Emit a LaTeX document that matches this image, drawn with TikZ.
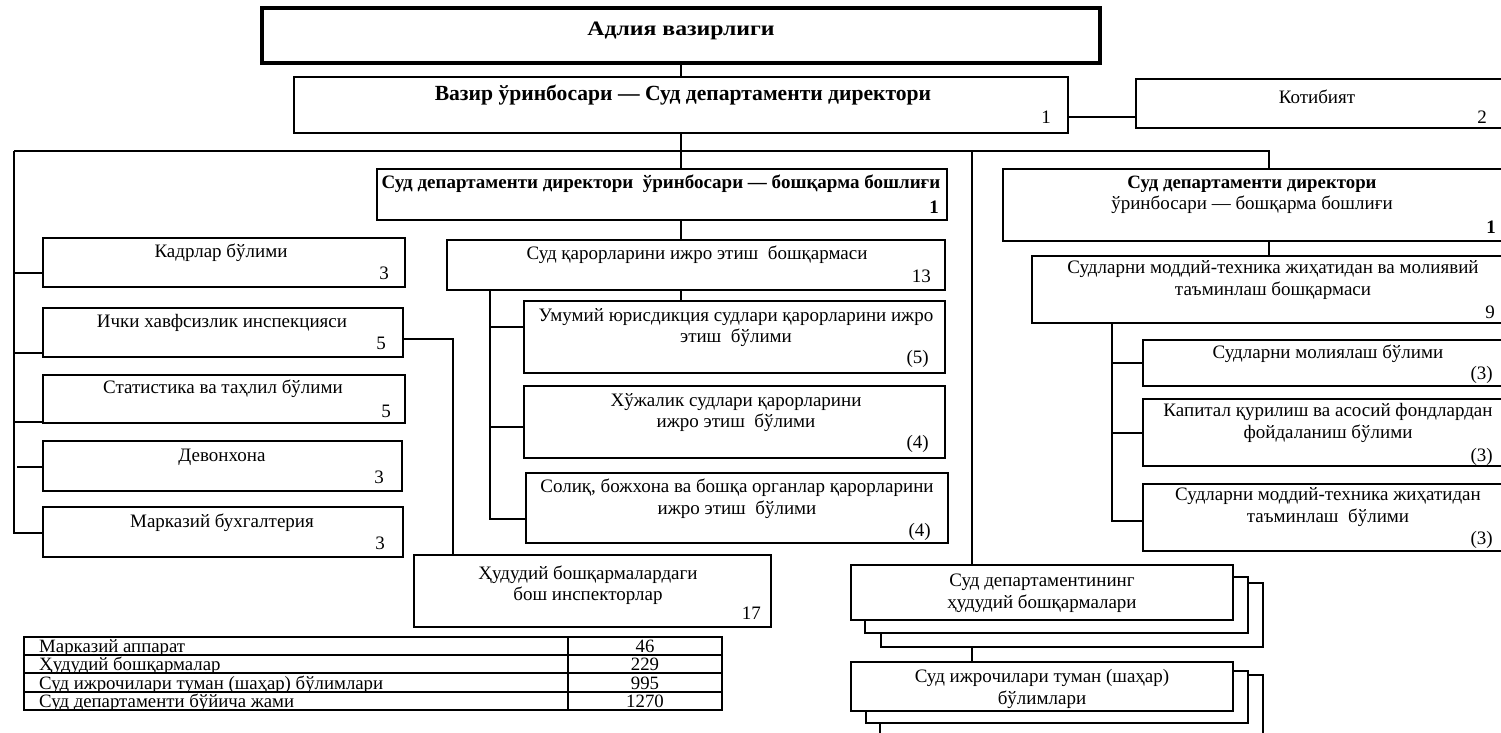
\documentclass[tikz,border=0pt]{standalone}
\usepackage{fontspec}
\setmainfont{Liberation Serif}
\usepackage{graphicx}
\newcommand\fsN{\fontsize{19}{21.5}\selectfont}
\newcommand\fsT{\fontsize{18.8}{18}\selectfont}
\newcommand\mkbox[6][]{\node[box,#1,minimum width={(#5-#3)*1pt},minimum height={(#6-#4)*1pt}] (#2) at ({(#3+#5)/2},{(#4+#6)/2}) {};}
\begin{document}
\begin{tikzpicture}[x=1pt,y=-1pt,
  box/.style={draw, line width=2.6pt, fill=white, inner sep=0pt, outer sep=0pt},
  ln/.style={line width=1.7pt},
  tl/.style={line width=1.9pt},
  txt/.style={inner sep=0pt, align=center, font=\fsN},
  num/.style={inner sep=0pt, anchor=east, font=\fsN},
  tt/.style={inner sep=0pt, font=\fsT}]
\useasboundingbox (0,0) rectangle (1501,733);
\fill[white] (0,0) rectangle (1501,733);
% boxes
\mkbox[line width=4.2pt]{A}{262}{8}{1100}{63}
\mkbox{B}{294}{77}{1068}{133}
\mkbox{Kt}{1136}{79}{1506}{128}
\mkbox{C}{377}{169}{947}{220}
\mkbox{D}{1003}{169}{1506}{241}
\mkbox{Kd}{43}{238}{405}{287}
\mkbox{Ic}{43}{308}{403}{357}
\mkbox{St}{43}{375}{405}{423}
\mkbox{Dv}{43}{441}{402}{491}
\mkbox{Mk}{43}{507}{403}{557}
\mkbox{SQ}{447}{240}{945}{290}
\mkbox{Um}{524}{301}{945}{373}
\mkbox{Kh}{524}{386}{945}{458}
\mkbox{So}{526}{473}{948}{543}
\mkbox{Hd}{414}{555}{771}{627}
\mkbox{Bq}{1032}{256}{1512}{323}
\mkbox{Ml}{1143}{340}{1512}{386}
\mkbox{Kp}{1143}{399}{1512}{466}
\mkbox{Md}{1143}{484}{1512}{551}
\mkbox{S1c}{881}{583}{1263}{647}
\mkbox{S1b}{865}{577}{1248}{633}
\mkbox{S1a}{851}{565}{1233}{620}
\mkbox{S2c}{880}{675}{1263}{745}
\mkbox{S2b}{866}{671}{1248}{723}
\mkbox{S2a}{851}{662}{1233}{711}
% texts
\node[txt] (tA) at (681,31) {\fontsize{20.5}{24}\selectfont\bfseries\scalebox{1.16}[1]{Адлия вазирлиги}};
\node[txt] (tB) at (683,95) {\fontsize{21.6}{24}\selectfont\bfseries Вазир ўринбосари — Суд департаменти директори};
\node[num] (nB) at (1051,117) {1};
\node[txt] (tKt) at (1317,97) {Котибият};
\node[num] (nKt) at (1487,117) {2};
\node[txt] (tC) at (661,184) {\fontsize{19}{22}\selectfont\bfseries Суд департаменти директори\ \ ўринбосари — бошқарма бошлиғи};
\node[num] (nC) at (939,207) {\bfseries 1};
\node[txt] (tD) at (1252,195) {\fontsize{18.8}{20}\selectfont\bfseries Суд департаменти директори\\ ўринбосари — бошқарма бошлиғи};
\node[num] (nD) at (1496,227) {\bfseries 1};
\node[txt] (tKd) at (221,253) {Кадрлар бўлими};
\node[num] (nKd) at (389,273) {3};
\node[txt] (tIc) at (222,323) {Ички хавфсизлик инспекцияси};
\node[num] (nIc) at (386,343) {5};
\node[txt] (tSt) at (223,389) {Статистика ва таҳлил бўлими};
\node[num] (nSt) at (391,411) {5};
\node[txt] (tDv) at (222,457) {Девонхона};
\node[num] (nDv) at (384,477) {3};
\node[txt] (tMk) at (222,523) {Марказий бухгалтерия};
\node[num] (nMk) at (385,543) {3};
\node[txt] (tSQ) at (697,255) {Суд қарорларини ижро этиш\ \ бошқармаси};
\node[num] (nSQ) at (931,276) {13};
\node[txt] (tUm) at (736,327.5) {Умумий юрисдикция судлари қарорларини ижро\\ этиш\ \ бўлими};
\node[num] (nUm) at (929,359) {(5)};
\node[txt] (tKh) at (736,412.5) {Хўжалик судлари қарорларини\\ ижро этиш\ \ бўлими};
\node[num] (nKh) at (929,444) {(4)};
\node[txt] (tSo) at (737,498.5) {Солиқ, божхона ва бошқа органлар қарорларини\\ ижро этиш\ \ бўлими};
\node[num] (nSo) at (931,532) {(4)};
\node[txt] (tHd) at (588,585) {Ҳудудий бошқармалардаги\\ бош инспекторлар};
\node[num] (nHd) at (761,613) {17};
\node[txt] (tBq) at (1273,280) {Судларни моддий-техника жиҳатидан ва молиявий\\ таъминлаш бошқармаси};
\node[num] (nBq) at (1495,312) {9};
\node[txt] (tMl) at (1328,354) {Судларни молиялаш бўлими};
\node[num] (nMl) at (1493,375) {(3)};
\node[txt] (tKp) at (1328,423) {Капитал қурилиш ва асосий фондлардан\\ фойдаланиш бўлими};
\node[num] (nKp) at (1493,457) {(3)};
\node[txt] (tMd) at (1328,507) {Судларни моддий-техника жиҳатидан\\ таъминлаш\ \ бўлими};
\node[num] (nMd) at (1493,540) {(3)};
\node[txt] (tS1) at (1042,593.5) {Суд департаментининг\\ ҳудудий бошқармалари};
\node[txt] (tS2) at (1042,689) {Суд ижрочилари туман (шаҳар)\\ бўлимлари};
% connectors
\coordinate (busL) at (14,151);
\coordinate (busR) at (1269,151);
\coordinate (mv) at (972,151);
\coordinate (kc) at (1068,117);
\coordinate (ih) at (453,339);
\coordinate (sq) at (490,290);
\coordinate (rq) at (1112,323);
\draw[ln] (A.south) -- (B.north);
\draw[ln] (kc) -- (kc -| Kt.west);
\draw[ln] (B.south) -- (C.north -| B.south);
\draw[ln] (busL) -- (busR) -- (busR |- D.north);
\draw[ln] (mv) -- (mv |- S1a.north);
\draw[ln] (busL) -- (14,533) -- (Mk.west |- 14,533);
\draw[ln] (14,273) -- (Kd.west |- 14,273);
\draw[ln] (14,353) -- (Ic.west |- 14,353);
\draw[ln] (14,422) -- (St.west |- 14,422);
\draw[ln] (17,467) -- (Dv.west |- 17,467);
\draw[ln] (Ic.east |- ih) -- (ih) -- (ih |- Hd.north);
\draw[ln] (C.south -| B.south) -- (SQ.north -| B.south);
\draw[ln] (SQ.south -| B.south) -- (Um.north -| B.south);
\draw[ln] (sq) -- (490,519) -- (So.west |- 490,519);
\draw[ln] (490,327) -- (Um.west |- 490,327);
\draw[ln] (490,427) -- (Kh.west |- 490,427);
\draw[ln] (D.south -| busR) -- (Bq.north -| busR);
\draw[ln] (rq) -- (1112,521) -- (Md.west |- 1112,521);
\draw[ln] (1112,363) -- (Ml.west |- 1112,363);
\draw[ln] (1112,433) -- (Kp.west |- 1112,433);
\draw[ln] (S1c.south -| mv) -- (S2a.north -| mv);
% table
\draw[tl] (24,637) rectangle (722,710);
\draw[tl] (24,655) -- (722,655) (24,673) -- (722,673) (24,692) -- (722,692);
\draw[tl] (568,637) -- (568,710);
\node[tt,anchor=base west] (r1) at (39,652) {Марказий аппарат};
\node[tt,anchor=base west] (r2) at (39,670) {Ҳудудий бошқармалар};
\node[tt,anchor=base west] (r3) at (39,689) {Суд ижрочилари туман (шаҳар) бўлимлари};
\node[tt,anchor=base west] (r4) at (39,707) {Суд департаменти бўйича жами};
\node[tt,anchor=base] (v1) at (645,652) {46};
\node[tt,anchor=base] (v2) at (645,670) {229};
\node[tt,anchor=base] (v3) at (645,689) {995};
\node[tt,anchor=base] (v4) at (645,707) {1270};
\end{tikzpicture}
\end{document}
